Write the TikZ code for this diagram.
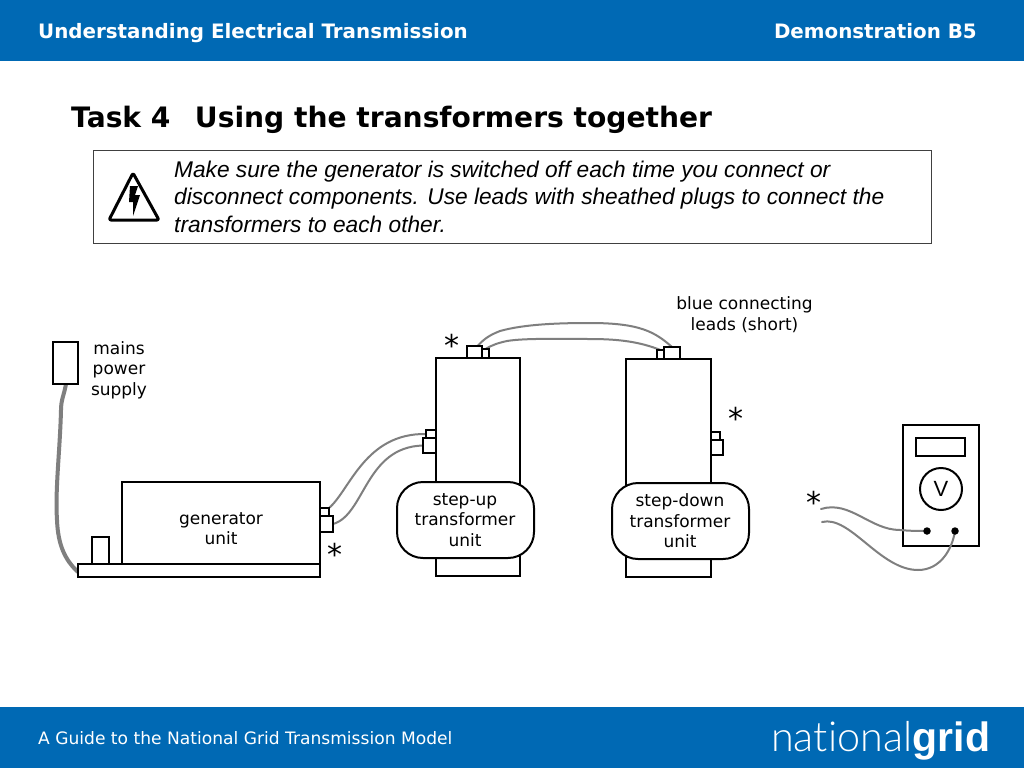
\documentclass[tikz,border=0pt]{standalone}
\usepackage{fontspec}
\setmainfont{DejaVu Sans}
\newfontfamily\warnfont{Liberation Sans}
\newfontfamily\logofont{Lato Light}
\newfontfamily\logobold{Liberation Sans}
\definecolor{ngblue}{HTML}{0069B4}
\definecolor{leadgrey}{HTML}{7F7F7F}
\pgfdeclarelayer{bg}
\pgfdeclarelayer{wires}
\pgfdeclarelayer{meterwires}
\pgfdeclarelayer{terminals}
\pgfsetlayers{bg,wires,main,meterwires,terminals}
\tikzset{
  x=1pt,y=-1pt,
  unit/.style={draw=black,line width=2pt,fill=white,rectangle,inner sep=0pt,outer sep=0pt,anchor=north west},
  lbl/.style={align=center,font=\fontsize{17}{20.5}\selectfont,inner sep=0pt},
  star/.style={font=\fontsize{30}{30}\selectfont,inner sep=0pt},
  wire/.style={draw=leadgrey,line width=2pt,line cap=round},
  band/.style={fill=ngblue,draw=none},
  head/.style={text=white,font=\fontsize{19.85}{22}\selectfont\bfseries,inner sep=0pt},
  term/.style={circle,fill=black,minimum size=7.5pt,inner sep=0pt,outer sep=0pt}
}
\newcommand{\ubox}[5]{\node[unit,minimum width=#4pt,minimum height=#5pt] (#1) at (#2,#3) {};}
\begin{document}
\begin{tikzpicture}
\useasboundingbox (0,0) rectangle (1024,768);
\begin{pgfonlayer}{bg}
\fill[white] (0,0) rectangle (1024,768);
\fill[band] (0,0) rectangle (1024,61);
\fill[band] (0,707) rectangle (1024,768);
\end{pgfonlayer}
\node[head,anchor=base west] (headl) at (38,38) {Understanding Electrical Transmission};
\node[head,anchor=base east] (headr) at (977,38) {Demonstration B5};
\node[anchor=base west,inner sep=0pt,font=\fontsize{28.12}{32}\selectfont\bfseries] (title) at (71,127) {Task 4\hspace{0.87em}Using the transformers together};
\node[anchor=base west,inner sep=0pt,text=white,font=\fontsize{17.1}{20}\selectfont] (foot) at (38,744) {A Guide to the National Grid Transmission Model};
\node[anchor=base west,inner sep=0pt,text=white,font=\fontsize{41.4}{42}\selectfont\logofont] (logo) at (771,751) {nat\kern0pt ional};
\node[anchor=base west,inner sep=0pt,text=white,font=\fontsize{41}{42}\selectfont\logobold\bfseries] (logo2) at (logo.base east) {grid};
% warning box
\node[draw=black!75,line width=1pt,rectangle,inner sep=0pt,outer sep=0pt,anchor=north west,minimum width=838pt,minimum height=93pt] (warn) at (93,150) {};
\node[anchor=base west,inner sep=0pt,align=left,font=\fontsize{22.7}{27.2}\selectfont\warnfont\itshape] (warntxt) at (174,232) {Make sure the generator is switched off each time you connect or\\disconnect components. Use leads with sheathed plugs to connect the\\transformers to each other.};
\draw[line width=3pt,line join=round,rounded corners=2pt] (133,173) -- (159,220) -- (109,220) -- cycle;
\fill (130,186) -- (138,186) -- (135,195) -- (140,195) -- (133,216) -- (133,202) -- (129,202) -- cycle;
% mains
\begin{pgfonlayer}{wires}
\draw[draw=leadgrey,line width=4pt] (66,384) .. controls (64,395) and (61,400) .. (61,410) .. controls (60,450) and (55,490) .. (57,520) .. controls (58,545) and (65,560) .. (78,572);
\end{pgfonlayer}
\ubox{mains}{53}{342}{25}{42}
\node[lbl] (mainslbl) at (119,370) {mains\\power\\supply};
% generator
\ubox{gen}{122}{482}{198}{82}
\ubox{genpin}{92}{537}{17}{27}
\ubox{base}{78}{564}{242}{13}
\ubox{gs}{320}{508}{9}{8}
\ubox{gb}{320}{516}{13}{16}
\node[lbl] (genlbl) at (221,528.5) {generator\\unit};
% transformer 1
\ubox{tone}{436}{358}{84}{218}
\ubox{tonetb}{467}{346}{15}{12}
\ubox{tonets}{482}{349}{7}{9}
\ubox{toness}{426}{430}{10}{8}
\ubox{tonesb}{423}{438}{13}{15}
\node[unit,rounded corners=26pt,minimum width=137pt,minimum height=76pt] (toneb) at (397,482) {};
\node[lbl] (tonelbl) at (465,520) {step-up\\transformer\\unit};
% transformer 2
\ubox{ttwo}{626}{359}{85}{218}
\ubox{ttwots}{657}{350}{7}{9}
\ubox{ttwotb}{664}{347}{16}{12}
\ubox{ttwoss}{711}{432}{9}{8}
\ubox{ttwosb}{711}{440}{12}{15}
\node[unit,rounded corners=26pt,minimum width=137pt,minimum height=76pt] (ttwob) at (612,483) {};
\node[lbl] (ttwolbl) at (680,521) {step-down\\transformer\\unit};
\node[lbl] (blue) at (744.5,314.5) {blue connecting\\leads (short)};
% voltmeter
\node[unit,minimum width=76pt,minimum height=121pt] (meter) at (903,425) {};
\node[unit,minimum width=49pt,minimum height=18pt] (display) at (916,438) {};
\node[draw=black,line width=2pt,circle,minimum size=42pt,inner sep=0pt,font=\fontsize{22}{22}\selectfont\warnfont] (dial) at (941,489) {V};
\begin{pgfonlayer}{terminals}
\node[term] (tl) at (927,531) {};
\node[term] (tr) at (955,531) {};
\end{pgfonlayer}
\coordinate (la) at (821,509);
\coordinate (lb) at (822,522);
% wires
\begin{pgfonlayer}{wires}
\draw[wire] (gs.north east) .. controls (350,490) and (365,433) .. (toness.west);
\draw[wire] (gb.east) .. controls (365,515) and (365,447) .. (tonesb.west);
\draw[wire] ([xshift=3pt]tonetb.north) .. controls (485,338) and (490,335) .. (500,331) .. controls (525,324) and (560,323) .. (590,323) .. controls (640,323) and (655,332) .. (ttwotb.north);
\draw[wire] (tonets.north) .. controls (492,345) and (498,343) .. (507,341) .. controls (525,338) and (560,339) .. (590,339) .. controls (620,339) and (640,342) .. (ttwots.north);
\end{pgfonlayer}
\begin{pgfonlayer}{meterwires}
\draw[wire] (la) .. controls (850,500) and (870,530) .. (900,530) .. controls (910,531) and (920,531) .. (tl.center);
\draw[wire] (lb) .. controls (850,515) and (880,570) .. (918,570) .. controls (940,570) and (952,550) .. (tr.center);
\end{pgfonlayer}
% asterisks
\node[star] (s1) at (451.5,345.5) {*};
\node[star] (s2) at (735.5,418.5) {*};
\node[star] (s3) at (814,502.5) {*};
\node[star] (s4) at (335,554.5) {*};
\end{tikzpicture}
\end{document}
